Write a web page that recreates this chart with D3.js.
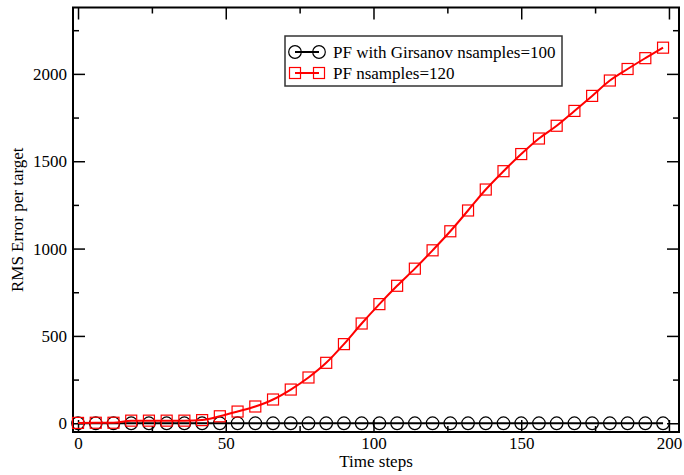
<!DOCTYPE html>
<html>
<head>
<meta charset="utf-8">
<script src="https://cdn.jsdelivr.net/npm/d3@7"></script>
<style>
  body { margin: 0; background: #fff; }
</style>
</head>
<body>
<script>
// time steps where markers sit (every 6 steps)
const steps = d3.range(0, 199, 6);

// PF with Girsanov nsamples=100 -- stays around zero
const girsanov = steps.map(() => 0);

// PF nsamples=120
const pfPlain = [2, 3, 3, 15, 15, 15, 15, 18, 40, 67, 96, 136, 193, 262, 346, 453,
  571, 682, 787, 885, 990, 1099, 1218, 1338, 1443, 1541, 1630, 1703, 1788,
  1874, 1962, 2028, 2090, 2150];

const xTicks = [0, 50, 100, 150, 200];
const yTicks = [0, 500, 1000, 1500, 2000];
const seriesNames = ["PF with Girsanov nsamples=100", "PF nsamples=120"];

const FONT = "'Liberation Serif', 'Times New Roman', Times, serif";

const width = 684, height = 475;
const margin = { top: 7.5, right: 5, bottom: 43, left: 73 };
const w = width - margin.left - margin.right;
const h = height - margin.top - margin.bottom;

const svg = d3.select("body")
  .append("svg")
  .attr("width", width)
  .attr("height", height);

const g = svg.append("g")
  .attr("transform", `translate(${margin.left},${margin.top})`);

const x = d3.scaleLinear().domain([-1.7, 203.4]).range([0, w]);
const y = d3.scaleLinear().domain([-50, 2380]).range([h, 0]);

const xMinor = d3.range(25, 201, 50);
const yMinor = d3.range(250, 2380, 500);

// axes, ticks pointing inward
function styleAxis(sel) {
  sel.attr("font-family", null);
  sel.select(".domain").remove();
  sel.selectAll(".tick line").attr("stroke", "#000").attr("stroke-width", 1.5);
  sel.selectAll("text")
    .style("font-family", FONT)
    .style("font-size", "17px")
    .attr("fill", "#000");
}

g.append("g")
  .attr("transform", `translate(0,${h})`)
  .call(d3.axisBottom(x).tickValues(xTicks).tickSize(-12).tickPadding(5).tickFormat(d3.format("d")))
  .call(styleAxis);
g.append("g")
  .attr("transform", `translate(0,${h})`)
  .call(d3.axisBottom(x).tickValues(xMinor).tickSize(-6).tickFormat(""))
  .call(styleAxis);
g.append("g")
  .call(d3.axisTop(x).tickValues(xTicks).tickSize(-12).tickFormat(""))
  .call(styleAxis);
g.append("g")
  .call(d3.axisTop(x).tickValues(xMinor).tickSize(-6).tickFormat(""))
  .call(styleAxis);

g.append("g")
  .call(d3.axisLeft(y).tickValues(yTicks).tickSize(-12).tickPadding(6).tickFormat(d3.format("d")))
  .call(styleAxis);
g.append("g")
  .call(d3.axisLeft(y).tickValues(yMinor).tickSize(-6).tickFormat(""))
  .call(styleAxis);
g.append("g")
  .attr("transform", `translate(${w},0)`)
  .call(d3.axisRight(y).tickValues(yTicks).tickSize(-12).tickFormat(""))
  .call(styleAxis);
g.append("g")
  .attr("transform", `translate(${w},0)`)
  .call(d3.axisRight(y).tickValues(yMinor).tickSize(-6).tickFormat(""))
  .call(styleAxis);

// frame
g.append("rect")
  .attr("width", w)
  .attr("height", h)
  .attr("fill", "none")
  .attr("stroke", "#000")
  .attr("stroke-width", 2);

// series
const line = d3.line()
  .x((d, i) => x(steps[i]))
  .y(d => y(d))
  .curve(d3.curveMonotoneX);

g.append("path")
  .datum(girsanov)
  .attr("d", line)
  .attr("fill", "none")
  .attr("stroke", "#000")
  .attr("stroke-width", 2);

g.selectAll("circle.gir")
  .data(girsanov)
  .enter()
  .append("circle")
  .attr("class", "gir")
  .attr("cx", (d, i) => x(steps[i]))
  .attr("cy", d => y(d))
  .attr("r", 6.3)
  .attr("fill", "none")
  .attr("stroke", "#000")
  .attr("stroke-width", 1.2);

g.append("path")
  .datum(pfPlain)
  .attr("d", line)
  .attr("fill", "none")
  .attr("stroke", "#ff0000")
  .attr("stroke-width", 2);

const sq = 11;
g.selectAll("rect.pf")
  .data(pfPlain)
  .enter()
  .append("rect")
  .attr("class", "pf")
  .attr("x", (d, i) => x(steps[i]) - sq / 2)
  .attr("y", d => y(d) - sq / 2)
  .attr("width", sq)
  .attr("height", sq)
  .attr("fill", "none")
  .attr("stroke", "#ff0000")
  .attr("stroke-width", 1.2);

// legend
const legend = svg.append("g").attr("transform", "translate(285,36)");
legend.append("rect")
  .attr("width", 277)
  .attr("height", 50)
  .attr("fill", "#fff")
  .attr("stroke", "#333")
  .attr("stroke-width", 1.5);

const rows = legend.selectAll("g.row")
  .data(seriesNames)
  .enter()
  .append("g")
  .attr("transform", (d, i) => `translate(0,${16 + i * 21})`);

rows.append("line")
  .attr("x1", 10).attr("x2", 34)
  .attr("stroke", (d, i) => i === 0 ? "#000" : "#ff0000")
  .attr("stroke-width", 2);

rows.each(function(d, i) {
  const r = d3.select(this);
  [10, 34].forEach(cx => {
    if (i === 0) {
      r.append("circle").attr("cx", cx).attr("r", 6.3)
        .attr("fill", "none").attr("stroke", "#000").attr("stroke-width", 1.2);
    } else {
      r.append("rect").attr("x", cx - sq / 2).attr("y", -sq / 2)
        .attr("width", sq).attr("height", sq)
        .attr("fill", "none").attr("stroke", "#ff0000").attr("stroke-width", 1.2);
    }
  });
});

rows.append("text")
  .attr("x", 48)
  .attr("dy", "0.35em")
  .style("font-family", FONT)
  .style("font-size", "17px")
  .text(d => d);

// axis titles
svg.append("text")
  .attr("x", margin.left + w / 2)
  .attr("y", 467)
  .attr("text-anchor", "middle")
  .style("font-family", FONT)
  .style("font-size", "17px")
  .text("Time steps");

svg.append("text")
  .attr("transform", `translate(23,${margin.top + h / 2}) rotate(-90)`)
  .attr("text-anchor", "middle")
  .style("font-family", FONT)
  .style("font-size", "17px")
  .text("RMS Error per target");
</script>
</body>
</html>
